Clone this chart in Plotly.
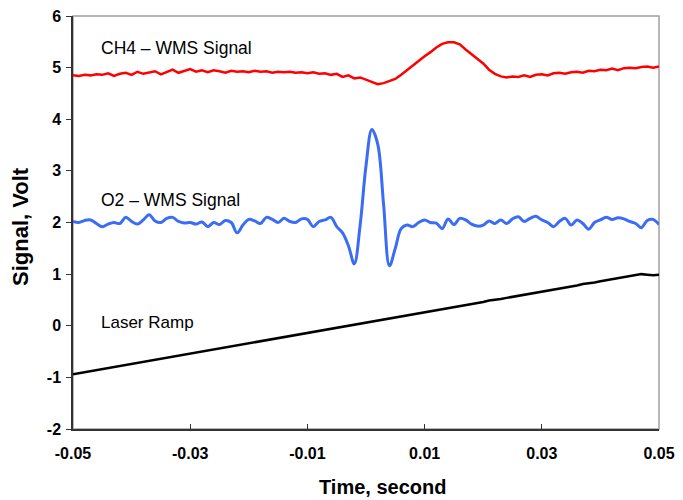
import plotly.graph_objects as go

# time axis, milliseconds converted to seconds
time_ms = list(range(-50, 51))
time_s = [t / 1000 for t in time_ms]

ch4_wms = [
    4.85, 4.84, 4.86, 4.85, 4.87, 4.86, 4.89, 4.84, 4.88, 4.90,
    4.86, 4.92, 4.88, 4.90, 4.93, 4.87, 4.92, 4.96, 4.90, 4.94,
    4.97, 4.92, 4.95, 4.91, 4.95, 4.93, 4.90, 4.94, 4.92, 4.93,
    4.91, 4.94, 4.92, 4.93, 4.90, 4.92, 4.91, 4.92, 4.90, 4.91,
    4.89, 4.91, 4.88, 4.89, 4.86, 4.88, 4.82, 4.85, 4.79, 4.81,
    4.77, 4.72, 4.68, 4.70, 4.74, 4.78, 4.86, 4.95, 5.05, 5.14,
    5.22, 5.30, 5.39, 5.46, 5.49, 5.49, 5.45, 5.35, 5.26, 5.16,
    5.08, 4.96, 4.88, 4.83, 4.81, 4.83, 4.82, 4.85, 4.82, 4.86,
    4.87, 4.85, 4.89, 4.90, 4.88, 4.91, 4.92, 4.90, 4.94, 4.93,
    4.96, 4.95, 4.98, 4.95, 4.99, 5.00, 4.99, 5.01, 5.02, 5.00,
    5.02,
]

o2_wms = [
    2.02, 2.00, 2.04, 2.05, 1.98, 1.92, 1.97, 2.00, 1.98, 2.10,
    2.02, 1.97, 2.05, 2.15, 2.03, 2.00, 2.08, 2.10, 2.02, 1.99,
    2.00, 1.97, 2.01, 1.92, 2.00, 1.96, 2.04, 2.00, 1.80, 1.95,
    2.06, 2.03, 1.98, 2.10, 2.06, 2.00, 2.08, 2.02, 2.00, 2.07,
    2.06, 1.92, 2.02, 2.05, 2.10, 1.92, 1.80, 1.55, 1.20, 1.95,
    3.10, 3.80, 3.52, 2.35, 1.16, 1.50, 1.88, 1.95, 1.92, 2.00,
    2.05, 2.00, 1.99, 1.88, 2.07, 1.96, 2.08, 2.05, 1.97, 1.93,
    1.95, 2.03, 1.98, 2.05, 1.98, 2.07, 2.11, 2.02, 2.08, 2.12,
    2.05, 2.00, 1.92, 2.02, 2.08, 1.95, 2.05, 1.98, 1.87, 2.00,
    2.05, 2.10, 2.06, 2.09, 2.07, 2.02, 1.98, 1.90, 2.04, 2.06,
    1.96,
]

laser_ramp = [
    -0.94, -0.92, -0.91, -0.88, -0.86, -0.85, -0.82, -0.81, -0.78, -0.76,
    -0.75, -0.72, -0.70, -0.69, -0.66, -0.64, -0.63, -0.60, -0.58, -0.57,
    -0.54, -0.52, -0.51, -0.48, -0.46, -0.45, -0.42, -0.40, -0.39, -0.36,
    -0.34, -0.33, -0.30, -0.28, -0.27, -0.24, -0.22, -0.21, -0.18, -0.16,
    -0.14, -0.13, -0.10, -0.08, -0.07, -0.04, -0.02, -0.01, 0.02, 0.04,
    0.05, 0.08, 0.10, 0.11, 0.14, 0.16, 0.17, 0.20, 0.22, 0.23,
    0.26, 0.28, 0.30, 0.31, 0.34, 0.36, 0.38, 0.40, 0.42, 0.44,
    0.46, 0.49, 0.50, 0.52, 0.54, 0.56, 0.58, 0.60, 0.62, 0.63,
    0.66, 0.68, 0.70, 0.72, 0.74, 0.76, 0.78, 0.81, 0.82, 0.84,
    0.86, 0.88, 0.90, 0.92, 0.94, 0.96, 0.98, 1.00, 0.99, 0.98,
    0.99,
]

x_ticks = [-0.05, -0.03, -0.01, 0.01, 0.03, 0.05]
x_labels = ["-0.05", "-0.03", "-0.01", "0.01", "0.03", "0.05"]
y_ticks = [-2, -1, 0, 1, 2, 3, 4, 5, 6]
y_labels = ["-2", "-1", "0", "1", "2", "3", "4", "5", "6"]

FONT = "Liberation Sans, Arial, sans-serif"

fig = go.Figure()
fig.add_trace(go.Scatter(x=time_s, y=laser_ramp, mode="lines",
                         line=dict(color="black", width=2.5)))
fig.add_trace(go.Scatter(x=time_s, y=o2_wms, mode="lines",
                         line=dict(color="#3a6cf5", width=3, shape="spline")))
fig.add_trace(go.Scatter(x=time_s, y=ch4_wms, mode="lines",
                         line=dict(color="#ff0000", width=2.5)))

# light grey frame on top and right
fig.add_shape(type="rect", xref="paper", yref="paper", x0=0, y0=0, x1=1, y1=1,
              line=dict(color="#a0a0a0", width=1.5), layer="below")

txt = dict(family=FONT, color="black")
fig.add_annotation(x=-0.0455, y=5.38, text="CH4 – WMS Signal", showarrow=False,
                   xanchor="left", font=dict(size=17.5, **txt))
fig.add_annotation(x=-0.0455, y=2.43, text="O2 – WMS Signal", showarrow=False,
                   xanchor="left", font=dict(size=17.5, **txt))
fig.add_annotation(x=-0.0455, y=0.07, text="Laser Ramp", showarrow=False,
                   xanchor="left", font=dict(size=17, **txt))

# axis titles
fig.add_annotation(xref="paper", yref="paper", x=(382 - 73) / 586, y=-(487 - 429) / 413,
                   xanchor="center", yanchor="middle",
                   text="<b>Time, second</b>", showarrow=False,
                   font=dict(size=20, **txt))
fig.add_annotation(xref="paper", yref="paper", x=-(73 - 20) / 586, y=(429 - 227) / 413,
                   xanchor="center", yanchor="middle",
                   text="<b>Signal, Volt</b>", showarrow=False, textangle=-90,
                   font=dict(size=22, **txt))

fig.update_layout(
    width=683, height=500,
    margin=dict(l=73, r=24, t=16, b=71),
    paper_bgcolor="white", plot_bgcolor="white",
    showlegend=False,
    font=dict(family=FONT, color="black"),
)
fig.update_xaxes(
    range=[-0.05, 0.05], tickvals=x_ticks, ticktext=x_labels, automargin=False,
    showgrid=False, zeroline=False, showline=True, linecolor="#333333", linewidth=1.5,
    ticks="inside", ticklen=5, tickcolor="#333333", ticklabelstandoff=9,
    tickfont=dict(size=16, family=FONT, weight="bold"),
)
fig.update_yaxes(
    range=[-2, 6], tickvals=y_ticks, ticktext=y_labels, automargin=False,
    showgrid=False, zeroline=False, showline=True, linecolor="#333333", linewidth=1.5,
    ticks="outside", ticklen=5, tickcolor="#333333", ticklabelstandoff=2,
    tickfont=dict(size=16, family=FONT, weight="bold"),
)

# drop the browser's default 8px page margin so the figure sits at the origin
fig.write_html("out.html", config={"displayModeBar": False},
               post_script="document.body.style.margin = '0';")
